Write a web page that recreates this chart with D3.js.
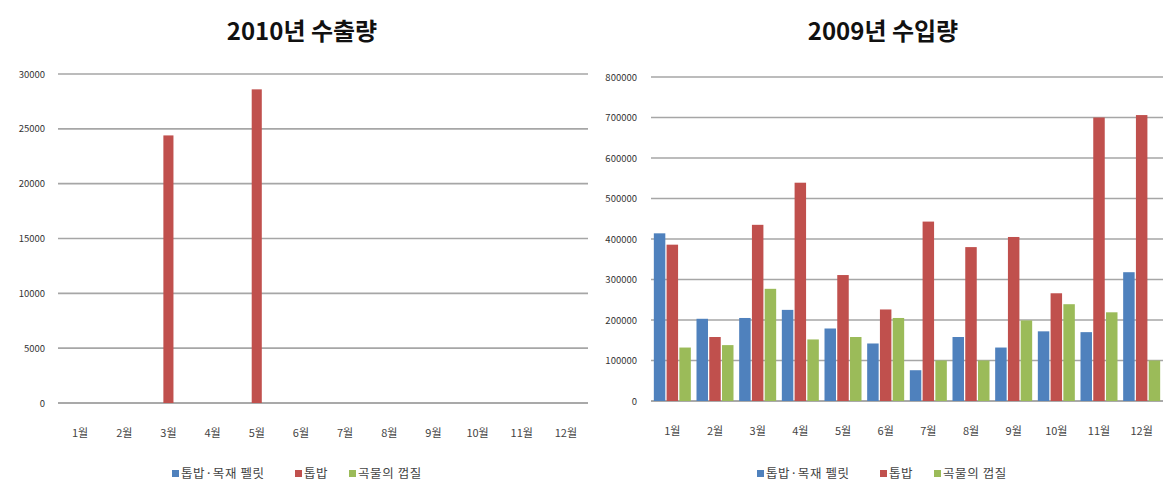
<!DOCTYPE html>
<html>
<head>
<meta charset="utf-8">
<script src="https://cdn.jsdelivr.net/npm/d3@7"></script>
<style>
  body { margin: 0; background: #fff; }
  svg { display: block; }
  text { font-family: "Noto Sans CJK KR", "Noto Sans", sans-serif; }
</style>
</head>
<body>
<svg id="chart" width="1165" height="489"></svg>
<script>
// Months and series names
const months = ["1월","2월","3월","4월","5월","6월","7월","8월","9월","10월","11월","12월"];
const seriesNames = ["톱밥·목재 펠릿", "톱밥", "곡물의 껍질"];
const seriesColors = ["#4f81bd", "#c0504d", "#9bbb59"];

// 2010 exports
const export2010Pellet = [0,0,0,0,0,0,0,0,0,0,0,0];
const export2010Sawdust = [0,0,24400,0,28600,0,0,0,0,0,0,0];
const export2010Husk = [0,0,0,0,0,0,0,0,0,0,0,0];
const exportTicks = [0,5000,10000,15000,20000,25000,30000];

// 2009 imports
const import2009Pellet = [414000,203000,205000,225000,179000,142000,76000,158000,132000,172000,170000,318000];
const import2009Sawdust = [386000,158000,435000,539000,311000,226000,443000,380000,405000,266000,700000,706000];
const import2009Husk = [132000,138000,277000,152000,158000,205000,100000,100000,199000,239000,219000,100000];
const importTicks = [0,100000,200000,300000,400000,500000,600000,700000,800000];

const svg = d3.select("#chart");

function drawPanel(cfg) {
  const g = svg.append("g");
  const x0 = d3.scaleBand().domain(months).range([cfg.left, cfg.right]).paddingInner(0).paddingOuter(0);
  const y = d3.scaleLinear().domain([0, cfg.max]).range([cfg.bottom, cfg.top]);
  const groupW = cfg.groupW;
  const x1 = d3.scaleBand().domain(seriesNames).range([0, groupW]).paddingInner(cfg.barGap);

  // title
  g.append("text")
    .attr("x", cfg.titleX).attr("y", 40)
    .attr("text-anchor", "middle")
    .attr("font-size", 24).attr("font-weight", "bold")
    .attr("fill", "#111")
    .text(cfg.title);

  // gridlines
  g.selectAll("line.grid").data(cfg.ticks).join("line")
    .attr("class", "grid")
    .attr("x1", cfg.left).attr("x2", cfg.right)
    .attr("y1", d => y(d)).attr("y2", d => y(d))
    .attr("stroke", d => d === 0 ? "#8c8c8c" : "#a6a6a6")
    .attr("stroke-width", 1.6);

  // y axis labels
  const yAxis = d3.axisLeft(y).tickValues(cfg.ticks).tickSize(0).tickPadding(0).tickFormat(d3.format("d"));
  const ya = g.append("g").attr("transform", `translate(${cfg.labelRight},0)`).call(yAxis);
  ya.select(".domain").remove();
  ya.selectAll("text").attr("font-size", 9.5).attr("fill", "#333")
    .attr("font-family", "\"Noto Sans CJK KR\", sans-serif");

  // bars
  const data = months.map((m, i) => ({ m, vals: cfg.series.map((s, k) => ({ k, v: s[i] })) }));
  const groups = g.selectAll("g.grp").data(data).join("g")
    .attr("class", "grp")
    .attr("transform", d => `translate(${x0(d.m) + (x0.bandwidth() - groupW) / 2},0)`);
  groups.selectAll("rect").data(d => d.vals.filter(o => o.v > 0)).join("rect")
    .attr("x", o => x1(seriesNames[o.k]))
    .attr("width", x1.bandwidth())
    .attr("y", o => y(o.v))
    .attr("height", o => y(0) - y(o.v))
    .attr("fill", o => seriesColors[o.k]);

  // category axis
  const xAxis = d3.axisBottom(x0).tickSize(0).tickPadding(0);
  const xa = g.append("g").attr("transform", `translate(0,${cfg.catY})`).call(xAxis);
  xa.select(".domain").remove();
  xa.selectAll("text").attr("font-size", 11).attr("fill", "#444").attr("dy", "0.35em")
    .attr("font-family", "\"Noto Sans CJK KR\", sans-serif");

  // legend
  const lg = g.append("g").attr("transform", `translate(${cfg.legendX},474)`);
  const offsets = [0, 123, 177];
  seriesNames.forEach((n, k) => {
    const it = lg.append("g").attr("transform", `translate(${offsets[k]},0)`);
    it.append("rect").attr("x", 0).attr("y", -4).attr("width", 7).attr("height", 7).attr("fill", seriesColors[k]);
    it.append("text").attr("x", 9).attr("y", 0).attr("dy", "0.35em")
      .attr("font-size", 12.5).attr("letter-spacing", 0.6).attr("fill", "#444").text(n);
  });
}

drawPanel({
  title: "2010년 수출량", titleX: 302,
  left: 58, right: 588, top: 74, bottom: 403, max: 30000,
  ticks: exportTicks, labelRight: 45, catY: 433,
  groupW: 32, barGap: 0.08,
  series: [export2010Pellet, export2010Sawdust, export2010Husk],
  legendX: 172
});

drawPanel({
  title: "2009년 수입량", titleX: 883,
  left: 651, right: 1163, top: 77, bottom: 401, max: 800000,
  ticks: importTicks, labelRight: 637, catY: 431,
  groupW: 37, barGap: 0.1,
  series: [import2009Pellet, import2009Sawdust, import2009Husk],
  legendX: 757
});
</script>
</body>
</html>
